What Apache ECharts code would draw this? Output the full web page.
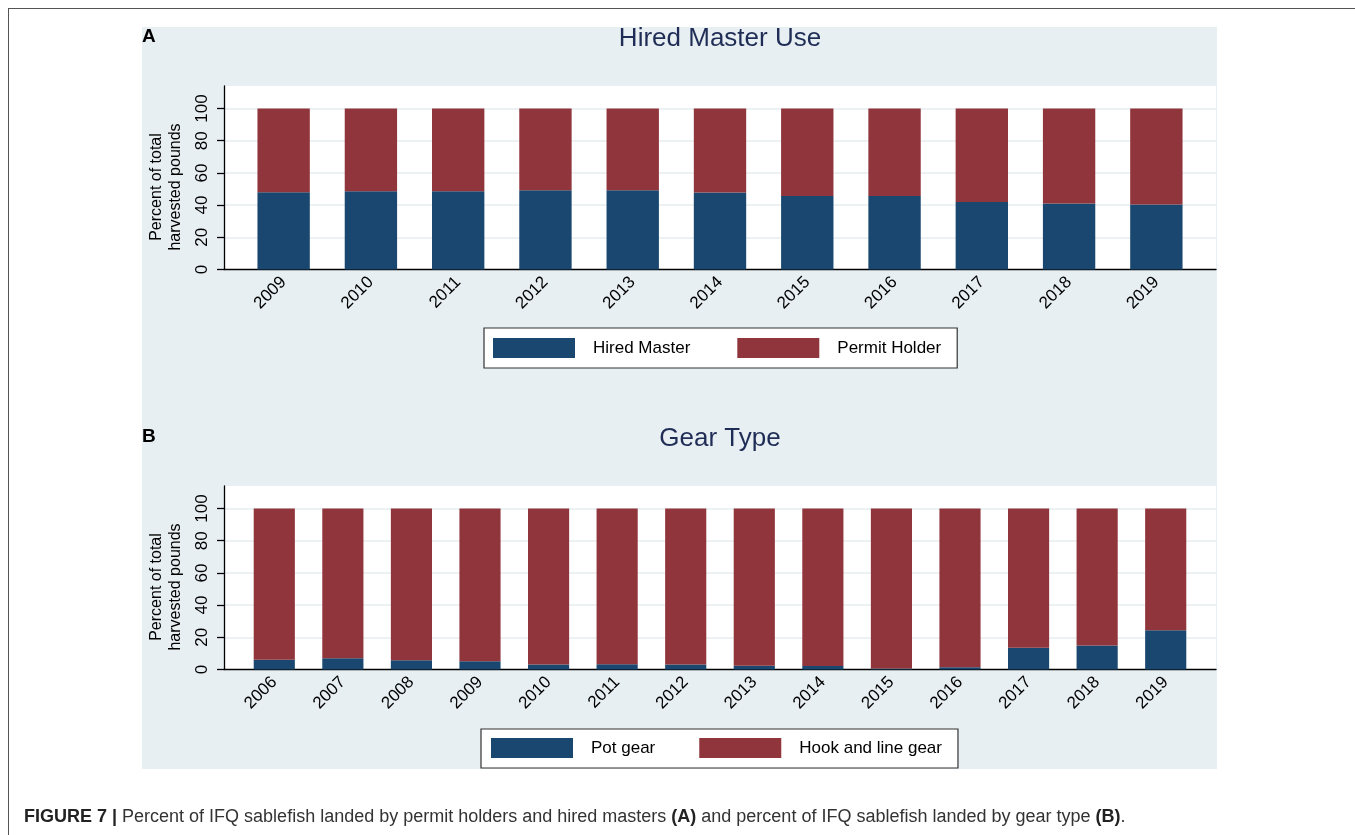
<!DOCTYPE html>
<html>
<head>
<meta charset="utf-8">
<script src="https://cdn.jsdelivr.net/npm/echarts@6/dist/echarts.min.js"></script>
<style>
  html, body { margin: 0; padding: 0; background: #fff; }
  #frame { position: absolute; left: 8px; top: 8px; width: 1347px; height: 827px;
           border-left: 1.5px solid #555; border-top: 1.5px solid #555; box-sizing: border-box; }
  #chart { position: absolute; left: 0; top: 0; width: 1355px; height: 835px; }
</style>
</head>
<body>
<div id="frame"></div>
<div id="chart"></div>
<script>
// ---- data ----
const yearsA = ['2009','2010','2011','2012','2013','2014','2015','2016','2017','2018','2019'];
const hiredMaster  = [48.0, 48.6, 48.6, 49.3, 49.3, 47.8, 45.7, 45.7, 42.0, 41.0, 40.4];
const permitHolder = [52.0, 51.4, 51.4, 50.7, 50.7, 52.2, 54.3, 54.3, 58.0, 59.0, 59.6];

const yearsB = ['2006','2007','2008','2009','2010','2011','2012','2013','2014','2015','2016','2017','2018','2019'];
const potGear  = [6.0, 7.0, 5.8, 5.2, 3.1, 3.3, 3.1, 2.3, 2.1, 0.6, 1.4, 13.5, 14.9, 24.4];
const hookLine = [94.0, 93.0, 94.2, 94.8, 96.9, 96.7, 96.9, 97.7, 97.9, 99.4, 98.6, 86.5, 85.1, 75.6];

const yTicks = [0, 20, 40, 60, 80, 100];
const yTitle = 'Percent of total\nharvested pounds';
const caption = ['FIGURE 7 |', ' Percent of IFQ sablefish landed by permit holders and hired masters ', '(A)',
                 ' and percent of IFQ sablefish landed by gear type ', '(B)', '.'];

// ---- styling ----
const NAVY = '#1a476f', MAROON = '#90353b', BG = '#e8eff2', GRID = '#e6eef1', TITLE = '#1f2d56';
const FONT = '"Liberation Sans", Arial, sans-serif';
const YMAX = 114;

const chart = echarts.init(document.getElementById('chart'), null, { renderer: 'canvas' });

function panel(top) {
  return [
    { left: 224, top: top, width: 992, height: 183.5, show: true, backgroundColor: '#fff', borderWidth: 0 },
    { left: 240, top: top, width: 960, height: 183.5 }
  ];
}
const grids = [].concat(panel(86), panel(486));

function frameX(gi) {
  return { type: 'value', gridIndex: gi, min: 0, max: 1, show: true,
    axisLine: { show: true, onZero: false, lineStyle: { color: '#000', width: 1.3 } },
    axisTick: { show: false }, axisLabel: { show: false }, splitLine: { show: false } };
}
function dataX(gi, cats) {
  return { type: 'category', gridIndex: gi, data: cats, boundaryGap: true,
    axisLine: { show: false }, axisTick: { show: false }, splitLine: { show: false },
    axisLabel: { rotate: 45, margin: 10, color: '#000', fontSize: 17, fontFamily: FONT, interval: 0 } };
}
function frameY(gi) {
  return { type: 'value', gridIndex: gi, min: 0, max: YMAX, interval: 20,
    axisLine: { show: true, lineStyle: { color: '#000', width: 1.3 } },
    axisTick: { show: true, length: 7, lineStyle: { color: '#000', width: 1.3 }, customValues: yTicks },
    axisLabel: { rotate: 90, margin: 13, color: '#000', fontSize: 17, fontFamily: FONT, customValues: yTicks },
    splitLine: { show: true, lineStyle: { color: GRID, width: 1.5 } } };
}
function dataY(gi) {
  return { type: 'value', gridIndex: gi, min: 0, max: YMAX, show: false, splitLine: { show: false } };
}

function bar(name, data, xi, yi, color, stack) {
  return { name, type: 'bar', stack, xAxisIndex: xi, yAxisIndex: yi, data,
    barCategoryGap: '40%', itemStyle: { color }, emphasis: { disabled: true }, animation: false };
}

function legend(top, left, names, gap, pad) {
  return { top, left, orient: 'horizontal', data: names, itemWidth: 82, itemHeight: 20,
    itemGap: gap, padding: pad, backgroundColor: '#fff', borderColor: '#333', borderWidth: 1.2,
    icon: 'rect', selectedMode: false,
    textStyle: { fontSize: 17, fontFamily: FONT, color: '#000', padding: [0, 0, 0, 13] } };
}

const option = {
  animation: false,
  graphic: [
    { type: 'rect', z: -10, silent: true, shape: { x: 142, y: 27, width: 1075, height: 742 }, style: { fill: BG } },
    { type: 'text', silent: true, rotation: Math.PI / 2, x: 166, y: 187,
      style: { text: yTitle, fontSize: 16, fontFamily: FONT, fill: '#000', align: 'center', verticalAlign: 'middle', lineHeight: 19 } },
    { type: 'text', silent: true, rotation: Math.PI / 2, x: 166, y: 587,
      style: { text: yTitle, fontSize: 16, fontFamily: FONT, fill: '#000', align: 'center', verticalAlign: 'middle', lineHeight: 19 } },
    { type: 'text', silent: true, x: 24, y: 817,
      style: { text: '{b|' + caption[0] + '}{n|' + caption[1] + '}{b|' + caption[2] + '}{n|' + caption[3] + '}{b|' + caption[4] + '}{n|' + caption[5] + '}',
        verticalAlign: 'middle',
        rich: { b: { fontSize: 18, fontWeight: 'bold', fontFamily: FONT, fill: '#222' },
                n: { fontSize: 18, fontFamily: FONT, fill: '#333' } } } }
  ],
  title: [
    { text: 'A', left: 142, top: 27, padding: 0, textStyle: { fontSize: 19, fontWeight: 'bold', color: '#000', fontFamily: FONT } },
    { text: 'Hired Master Use', left: 720, textAlign: 'center', top: 26, padding: 0,
      textStyle: { fontSize: 26, fontWeight: 'normal', color: TITLE, fontFamily: FONT } },
    { text: 'B', left: 142, top: 427, padding: 0, textStyle: { fontSize: 19, fontWeight: 'bold', color: '#000', fontFamily: FONT } },
    { text: 'Gear Type', left: 720, textAlign: 'center', top: 426, padding: 0,
      textStyle: { fontSize: 26, fontWeight: 'normal', color: TITLE, fontFamily: FONT } }
  ],
  legend: [
    legend(328, 484, ['Hired Master', 'Permit Holder'], 47, [10, 16, 10, 9]),
    legend(729, 481, ['Pot gear', 'Hook and line gear'], 44, [9, 16, 10, 10])
  ],
  grid: grids,
  xAxis: [frameX(0), dataX(1, yearsA), frameX(2), dataX(3, yearsB)],
  yAxis: [frameY(0), dataY(1), frameY(2), dataY(3)],
  series: [
    bar('Hired Master', hiredMaster, 1, 1, NAVY, 'a'),
    bar('Permit Holder', permitHolder, 1, 1, MAROON, 'a'),
    bar('Pot gear', potGear, 3, 3, NAVY, 'b'),
    bar('Hook and line gear', hookLine, 3, 3, MAROON, 'b')
  ]
};
chart.setOption(option);
</script>
</body>
</html>
